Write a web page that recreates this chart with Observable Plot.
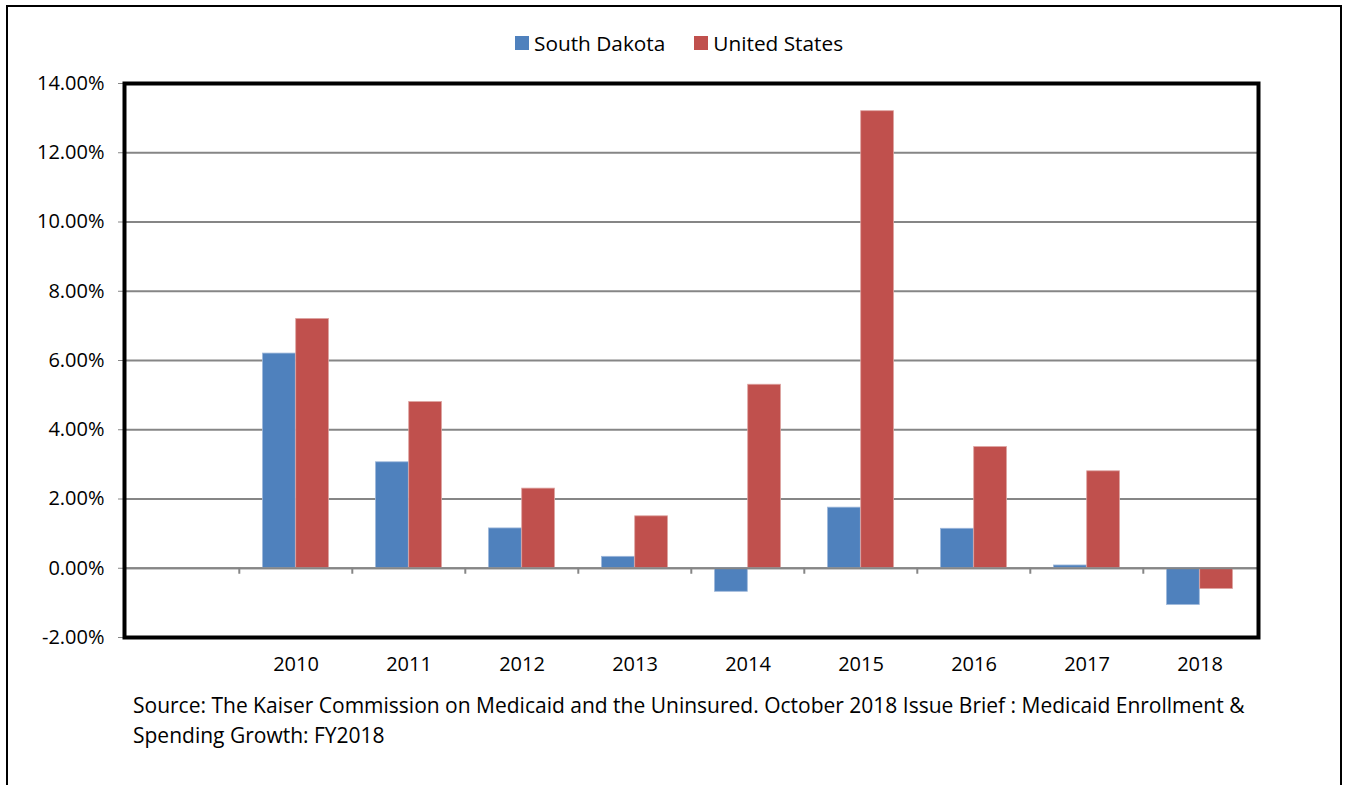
<!DOCTYPE html>
<html><head><meta charset="utf-8">
<script src="https://cdn.jsdelivr.net/npm/d3@7"></script>
<script src="https://cdn.jsdelivr.net/npm/@observablehq/plot@0.6"></script>
<style>
html,body{margin:0;padding:0;background:#fff;}
body{font-family:"Open Sans",sans-serif;color:#000;width:1347px;height:785px;overflow:hidden;position:relative;}
#border{position:absolute;left:6px;top:5px;width:1336px;height:840px;border:2px solid #000;box-sizing:border-box;}
#legend{position:absolute;top:29px;left:515px;font-size:20.8px;display:flex;align-items:center;white-space:nowrap;}
#legend .sw{display:inline-block;width:14px;height:14px;margin-right:5px;}
#legend .item{display:flex;align-items:center;margin-right:29px;}
#chart{position:absolute;left:0;top:70px;}
#caption{position:absolute;left:133px;top:690px;font-size:21px;line-height:30px;width:1180px;white-space:nowrap;}
</style>
</head><body>
<div id="border"></div>
<div id="legend"></div>
<div id="chart"></div>
<div id="caption"></div>
<script>
// ---- data ----
const categories = ["", "2010", "2011", "2012", "2013", "2014", "2015", "2016", "2017", "2018"];
const years = ["2010", "2011", "2012", "2013", "2014", "2015", "2016", "2017", "2018"];
const series = ["South Dakota", "United States"];
const southDakota = [6.2, 3.06, 1.15, 0.33, -0.68, 1.75, 1.14, 0.08, -1.06];
const unitedStates = [7.2, 4.8, 2.3, 1.5, 5.3, 13.2, 3.5, 2.8, -0.6];
const yTicks = [-2, 0, 2, 4, 6, 8, 10, 12, 14];
const colors = ["#4F81BD", "#C0504D"];
const captionLines = [
  "Source: The Kaiser Commission on Medicaid and the Uninsured. October 2018 Issue Brief : Medicaid Enrollment &",
  "Spending Growth: FY2018"
];

const sdData = years.map((y, i) => ({year: y, value: southDakota[i], series: series[0]}));
const usData = years.map((y, i) => ({year: y, value: unitedStates[i], series: series[1]}));

// legend
const legend = document.getElementById("legend");
series.forEach((s, i) => {
  const it = document.createElement("span");
  it.className = "item";
  it.innerHTML = `<span class="sw" style="background:${colors[i]}"></span>${s}`;
  legend.appendChild(it);
});
document.getElementById("caption").innerHTML = captionLines.join("<br>");

const fmt = d => d.toFixed(2) + "%";
const grid = "#868686";

const chart = Plot.plot({
  width: 1347,
  height: 617,
  marginLeft: 124,
  marginRight: 89,
  marginTop: 13,
  marginBottom: 50,
  style: {fontFamily: "'Open Sans', sans-serif", fontSize: "20px", background: "transparent", color: "#000"},
  x: {domain: categories, padding: 0, label: null},
  y: {domain: [-2, 14], label: null},
  marks: [
    Plot.ruleY(yTicks.filter(t => t > -2 && t < 14), {y: d => d, stroke: grid, strokeWidth: 2}),
    Plot.barY(sdData, {x: "year", y: "value", fill: colors[0], stroke: "#9DB7DA", strokeWidth: 0.8, insetLeft: 23.5, insetRight: 56.7}),
    Plot.barY(usData, {x: "year", y: "value", fill: colors[1], stroke: "#DDA3A1", strokeWidth: 0.8, insetLeft: 56.7, insetRight: 23.5}),
    Plot.ruleY([0], {stroke: grid, strokeWidth: 2}),
    Plot.ruleX(years, {x: d => d, y1: 0, y2: 0, insetTop: 6, dx: -56.7, stroke: grid, strokeWidth: 2}),
    Plot.axisY({ticks: yTicks, tickFormat: fmt, tickSize: 6, tickPadding: 14, stroke: grid, fill: "#000", fontSize: 20}),
    Plot.axisX({tickSize: 0, tickPadding: 19, fill: "#000", fontSize: 20, tickFormat: d => d}),
    Plot.frame({stroke: "#000", strokeWidth: 4})
  ]
});
document.getElementById("chart").appendChild(chart);
</script>
</body></html>
